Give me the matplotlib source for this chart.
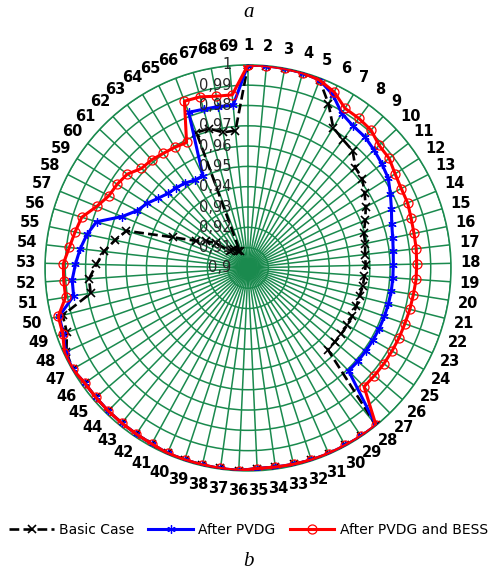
import numpy as np
import matplotlib; matplotlib.use("Agg")
import matplotlib.pyplot as plt

GREEN = "#1a8a4e"

buses = list(range(1, 70))

# base case voltages (p.u.)
basic = [1.0000, 1.0000, 0.9999, 0.9998, 0.9990, 0.9901, 0.9808, 0.9786, 0.9774, 0.9724,
         0.9713, 0.9682, 0.9653, 0.9624, 0.9596, 0.9590, 0.9580, 0.9580, 0.9575, 0.9572,
         0.9567, 0.9566, 0.9566, 0.9564, 0.9563, 0.9562, 0.9562, 0.9999, 0.9999, 0.9997,
         0.9997, 0.9996, 0.9993, 0.9990, 0.9989, 0.9999, 0.9997, 0.9996, 0.9995, 0.9995,
         0.9988, 0.9986, 0.9985, 0.9985, 0.9984, 0.9984, 0.9998, 0.9985, 0.9947, 0.9942,
         0.9785, 0.9785, 0.9747, 0.9714, 0.9669, 0.9626, 0.9401, 0.9290, 0.9248, 0.9197,
         0.9123, 0.9121, 0.9117, 0.9098, 0.9092, 0.9713, 0.9713, 0.9679, 0.9679]

pvdg = [1.0000, 1.0000, 0.9999, 0.9998, 0.9990, 0.9950, 0.9890, 0.9870, 0.9865, 0.9850,
        0.9835, 0.9820, 0.9790, 0.9763, 0.9740, 0.9728, 0.9720, 0.9716, 0.9715, 0.9715,
        0.9714, 0.9713, 0.9712, 0.9711, 0.9710, 0.9710, 0.9709, 0.9999, 0.9999, 0.9997,
        0.9997, 0.9996, 0.9993, 0.9990, 0.9989, 0.9999, 0.9997, 0.9996, 0.9995, 0.9995,
        0.9988, 0.9986, 0.9985, 0.9985, 0.9984, 0.9984, 0.9998, 0.9990, 0.9965, 0.9960,
        0.9870, 0.9868, 0.9850, 0.9832, 0.9810, 0.9780, 0.9670, 0.9614, 0.9590, 0.9560,
        0.9538, 0.9530, 0.9520, 0.9506, 0.9505, 0.9820, 0.9812, 0.9808, 0.9805]

pvdg_bess = [1.0000, 1.0000, 0.9999, 0.9998, 0.9990, 0.9965, 0.9920, 0.9917, 0.9910, 0.9884,
             0.9880, 0.9860, 0.9850, 0.9849, 0.9840, 0.9835, 0.9834, 0.9831, 0.9830, 0.9825,
             0.9823, 0.9820, 0.9820, 0.9819, 0.9819, 0.9818, 0.9818, 0.9999, 0.9999, 0.9997,
             0.9997, 0.9996, 0.9993, 0.9990, 0.9989, 0.9999, 0.9997, 0.9996, 0.9995, 0.9995,
             0.9988, 0.9986, 0.9985, 0.9985, 0.9984, 0.9984, 0.9998, 0.9996, 0.9968, 0.9965,
             0.9910, 0.9910, 0.9910, 0.9886, 0.9870, 0.9856, 0.9804, 0.9772, 0.9765, 0.9753,
             0.9718, 0.9713, 0.9702, 0.9695, 0.9688, 0.9879, 0.9875, 0.9860, 0.9856]

rticks = [0.9, 0.91, 0.92, 0.93, 0.94, 0.95, 0.96, 0.97, 0.98, 0.99, 1.0]
rlabels = ["0,9", "0,91", "0,92", "0,93", "0,94", "0,95", "0,96", "0,97", "0,98", "0,99", "1"]

n = len(buses)
theta = np.arange(n) * 2 * np.pi / n
th = np.append(theta, theta[0])
close = lambda v: np.append(v, v[0])

BLK = dict(ls="--", color="black", lw=1.9, marker="x", ms=6, mew=1.2)
BLU = dict(ls="-", color="#0000ff", lw=2.2, marker=(6, 2, 0), ms=6, mew=0.9)
RED = dict(ls="-", color="#ff0000", lw=2.2, marker="o", ms=6.5, mfc="none", mec="#ff0000", mew=0.9)

fig = plt.figure(figsize=(4.97, 5.72), dpi=100)
ax = fig.add_axes([0.0905, 0.1766, 0.817, 0.71], projection="polar")
ax.set_theta_zero_location("N"); ax.set_theta_direction(-1)
ax.set_ylim(0.9, 1.0)
ax.set_xticks(theta); ax.set_xticklabels([])
ax.set_yticks(rticks[1:]); ax.set_yticklabels([])
ax.grid(True, color=GREEN, lw=1.1, alpha=1)
ax.spines["polar"].set_color(GREEN); ax.spines["polar"].set_linewidth(1.1)
ax.set_facecolor("white")

ax.plot(th, close(basic), zorder=3, **BLK)
ax.plot(th, close(pvdg), zorder=4, **BLU)
ax.plot(th, close(pvdg_bess), zorder=5, **RED)

for t, b in zip(theta, buses):
    ax.text(t, 1.0096, str(b), ha="center", va="center", fontsize=10.5, fontweight="bold",
            clip_on=False)
for r, lab in zip(rticks, rlabels):
    ax.annotate(lab, xy=(0, r), xytext=(-12, 0), textcoords="offset points", ha="right",
                va="center", fontsize=10.5, color="#262626", zorder=6, annotation_clip=False)

fig.text(0.5, 0.978, "a", ha="center", va="center", fontsize=15, style="italic",
         family="Liberation Serif")
fig.text(0.5, 0.018, "b", ha="center", va="center", fontsize=15, style="italic",
         family="Liberation Serif")

h1, = plt.plot([], [], **BLK)
h2, = plt.plot([], [], **BLU)
h3, = plt.plot([], [], **RED)
fig.legend([h1, h2, h3], ["Basic Case", "After PVDG", "After PVDG and BESS"], loc="center",
           bbox_to_anchor=(0.5, 0.073), ncol=3, frameon=False, fontsize=10,
           handlelength=3.2, handletextpad=0.4, columnspacing=1.0)

fig.savefig("out.png", dpi=100)
